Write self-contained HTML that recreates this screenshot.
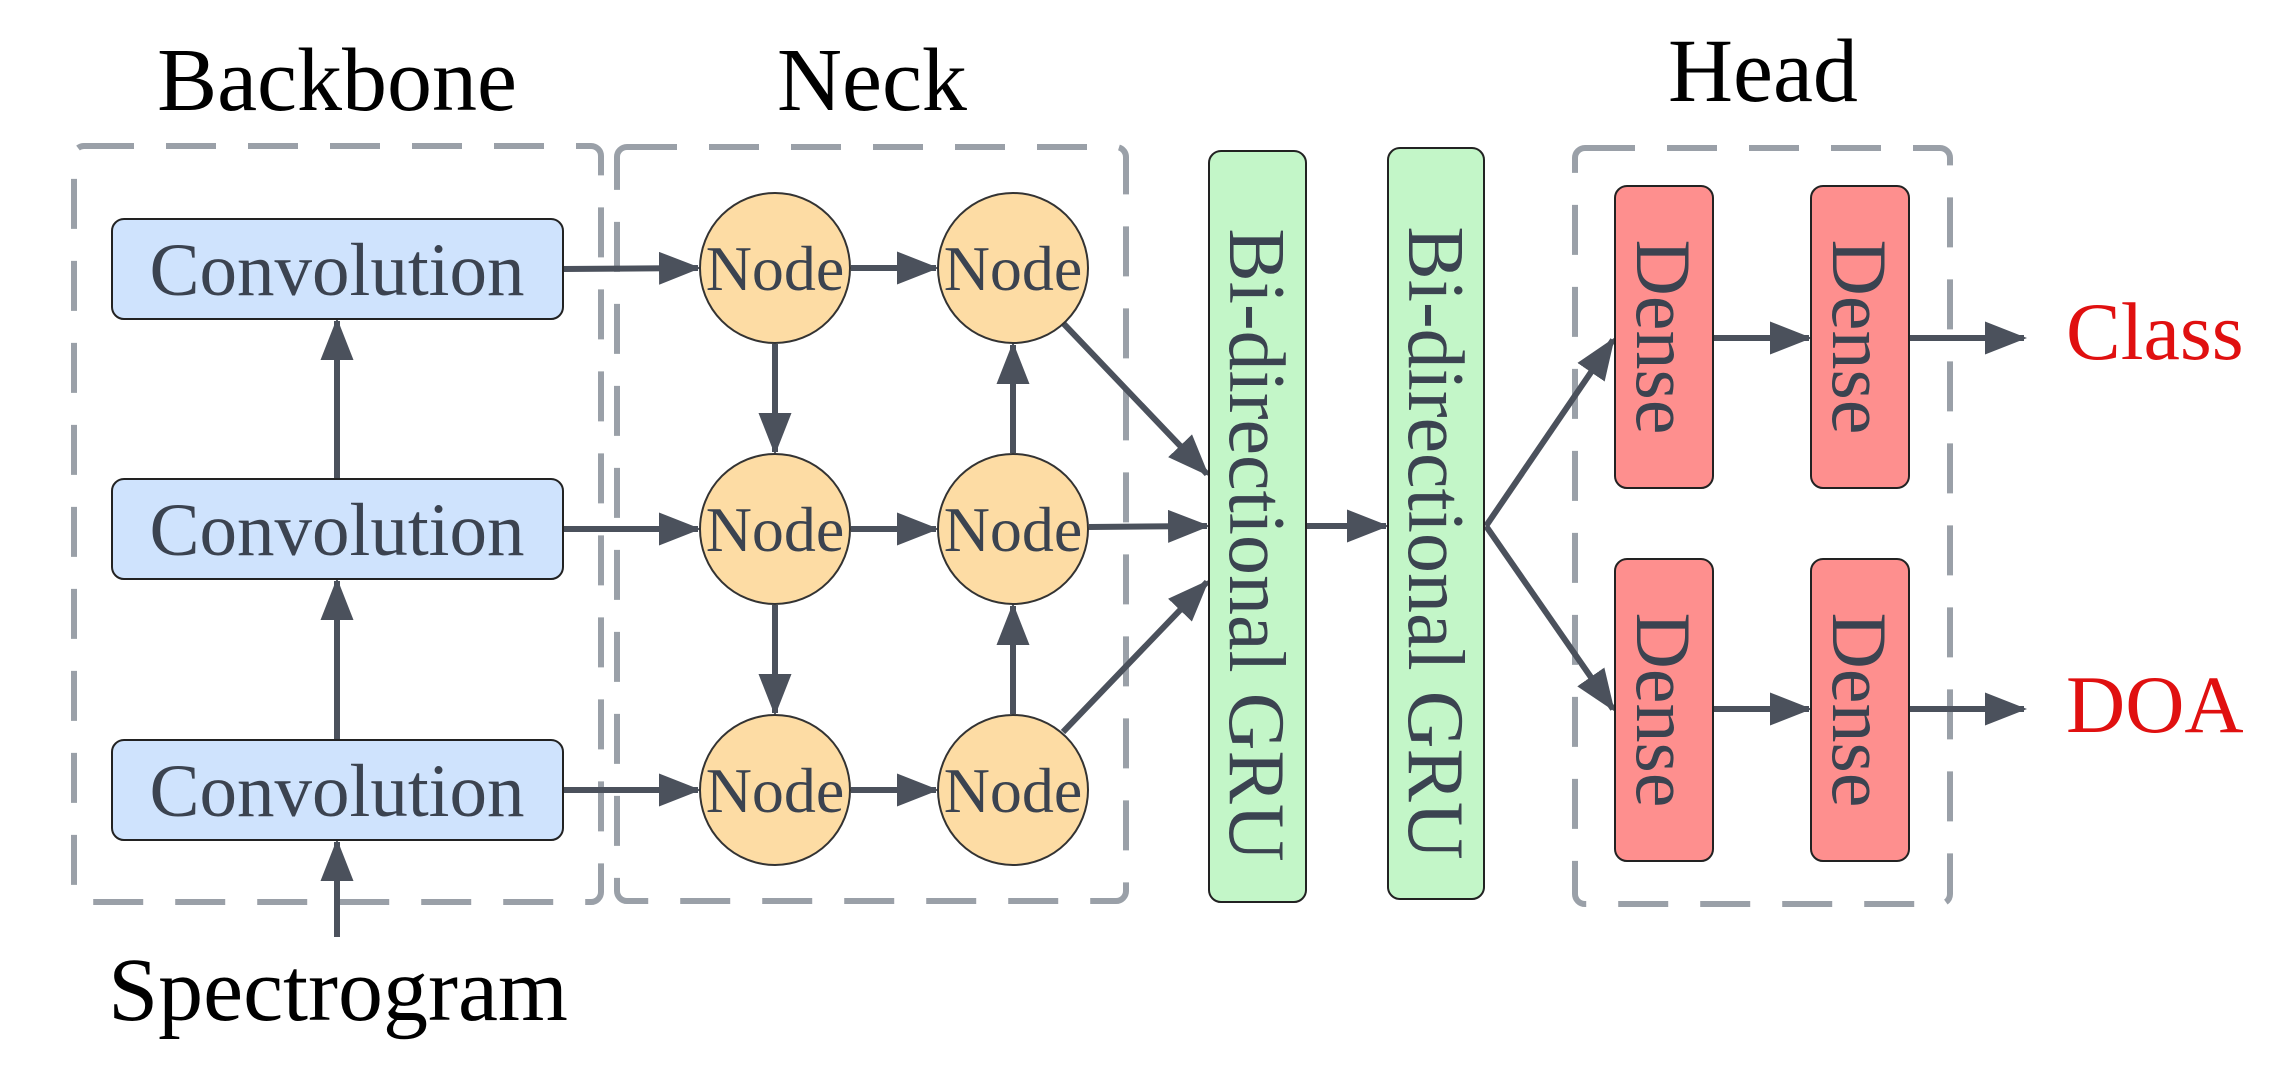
<!DOCTYPE html>
<html><head><meta charset="utf-8"><style>
html,body{margin:0;padding:0;background:#fff;}
svg{display:block;}
text{font-family:"Liberation Serif",serif;}
</style></head><body>
<svg width="2286" height="1088" viewBox="0 0 2286 1088" xmlns="http://www.w3.org/2000/svg">
<defs>
<marker id="ah" markerWidth="7" markerHeight="5.5" refX="6.5" refY="2.75" orient="auto" markerUnits="strokeWidth">
<path d="M0,0 L7,2.75 L0,5.5 Z" fill="#4b515c"/>
</marker>
</defs>
<!-- titles -->
<text x="337" y="110" font-size="90" text-anchor="middle" fill="#000">Backbone</text>
<text x="872" y="110" font-size="90" text-anchor="middle" fill="#000">Neck</text>
<text x="1763" y="101" font-size="90" text-anchor="middle" fill="#000">Head</text>
<text x="338" y="1020" font-size="90" text-anchor="middle" fill="#000">Spectrogram</text>
<text x="2066" y="359" font-size="82" fill="#e01010">Class</text>
<text x="2066" y="732" font-size="82" fill="#e01010">DOA</text>

<!-- dashed groups -->
<g fill="none" stroke="#9aa0a8" stroke-width="6" stroke-dasharray="50,32">
<rect x="74" y="146" width="527" height="756" rx="10"/>
<rect x="617" y="147" width="509" height="754" rx="10"/>
<rect x="1575" y="148" width="375" height="756" rx="10"/>
</g>

<!-- arrows -->
<g stroke="#4b515c" stroke-width="6" fill="none" marker-end="url(#ah)">
<line x1="337" y1="937" x2="337" y2="842"/>
<line x1="337" y1="479" x2="337" y2="321"/>
<line x1="337" y1="740" x2="337" y2="581"/>
<line x1="563" y1="269" x2="698" y2="268"/>
<line x1="563" y1="529" x2="698" y2="529"/>
<line x1="563" y1="790" x2="698" y2="790"/>
<line x1="851" y1="268" x2="936" y2="268"/>
<line x1="851" y1="529" x2="936" y2="529"/>
<line x1="851" y1="790" x2="936" y2="790"/>
<line x1="775" y1="344" x2="775" y2="452"/>
<line x1="775" y1="605" x2="775" y2="713"/>
<line x1="1013" y1="714" x2="1013" y2="606"/>
<line x1="1013" y1="453" x2="1013" y2="345"/>
<line x1="1063" y1="323" x2="1207" y2="474"/>
<line x1="1089" y1="527" x2="1207" y2="526"/>
<line x1="1063" y1="732" x2="1207" y2="582"/>
<line x1="1306" y1="526" x2="1386" y2="526"/>
<line x1="1486" y1="526" x2="1613" y2="340"/>
<line x1="1486" y1="526" x2="1613" y2="709"/>
<line x1="1713" y1="338" x2="1809" y2="338"/>
<line x1="1713" y1="709" x2="1809" y2="709"/>
<line x1="1910" y1="338" x2="2024" y2="338"/>
<line x1="1910" y1="709" x2="2024" y2="709"/>
</g>

<!-- conv boxes -->
<g fill="#cfe3fd" stroke="#222" stroke-width="2">
<rect x="112" y="219" width="451" height="100" rx="12"/>
<rect x="112" y="479" width="451" height="100" rx="12"/>
<rect x="112" y="740" width="451" height="100" rx="12"/>
</g>
<g font-size="75" fill="#3b4350" text-anchor="middle">
<text x="337" y="295">Convolution</text>
<text x="337" y="555">Convolution</text>
<text x="337" y="816">Convolution</text>
</g>

<!-- nodes -->
<g fill="#fddca4" stroke="#333" stroke-width="2">
<circle cx="775" cy="268" r="75"/><circle cx="1013" cy="268" r="75"/>
<circle cx="775" cy="529" r="75"/><circle cx="1013" cy="529" r="75"/>
<circle cx="775" cy="790" r="75"/><circle cx="1013" cy="790" r="75"/>
</g>
<g font-size="64" fill="#3b4350" text-anchor="middle">
<text x="775" y="290">Node</text><text x="1013" y="290">Node</text>
<text x="775" y="551">Node</text><text x="1013" y="551">Node</text>
<text x="775" y="812">Node</text><text x="1013" y="812">Node</text>
</g>

<!-- GRUs -->
<g fill="#c3f6c8" stroke="#222" stroke-width="2">
<rect x="1209" y="151" width="97" height="751" rx="12"/>
<rect x="1388" y="148" width="96" height="751" rx="12"/>
</g>
<g font-size="80" fill="#3b4350" text-anchor="middle">
<text transform="translate(1257,545) rotate(90)" y="27">Bi-directional GRU</text>
<text transform="translate(1436,543) rotate(90)" y="27">Bi-directional GRU</text>
</g>

<!-- Dense -->
<g fill="#fe8f8e" stroke="#222" stroke-width="2">
<rect x="1615" y="186" width="98" height="302" rx="12"/>
<rect x="1811" y="186" width="98" height="302" rx="12"/>
<rect x="1615" y="559" width="98" height="302" rx="12"/>
<rect x="1811" y="559" width="98" height="302" rx="12"/>
</g>
<g font-size="78" fill="#3b4350" text-anchor="middle">
<text transform="translate(1664,337) rotate(90)" y="27">Dense</text>
<text transform="translate(1860,337) rotate(90)" y="27">Dense</text>
<text transform="translate(1664,710) rotate(90)" y="27">Dense</text>
<text transform="translate(1860,710) rotate(90)" y="27">Dense</text>
</g>
</svg>
</body></html>
